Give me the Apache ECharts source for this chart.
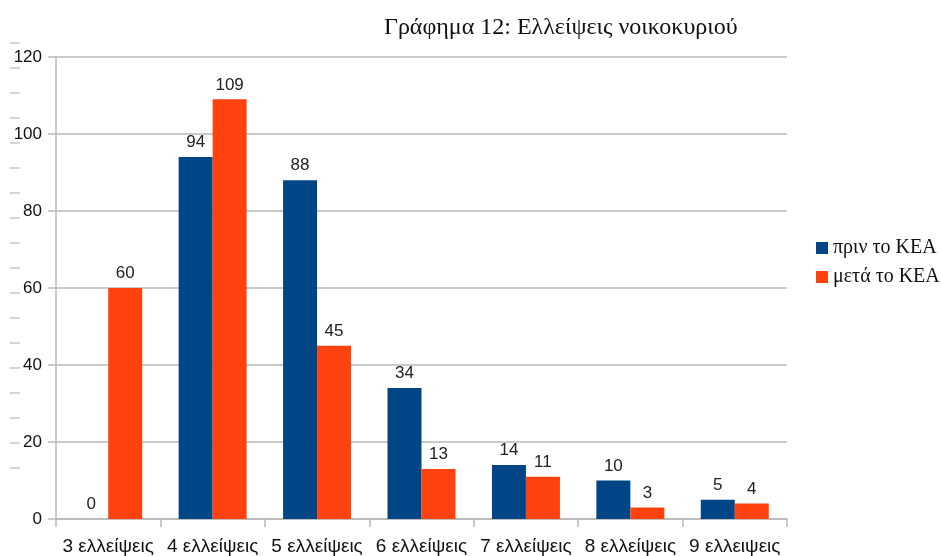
<!DOCTYPE html>
<html>
<head>
<meta charset="utf-8">
<script src="https://cdn.jsdelivr.net/npm/echarts@6/dist/echarts.min.js"></script>
<style>
  html, body { margin: 0; padding: 0; background: #fff; }
  #chart { width: 941px; height: 556px; }
</style>
</head>
<body>
<div id="chart"></div>
<script>
// κατηγορίες
var categories = ['3 ελλείψεις', '4 ελλείψεις', '5 ελλείψεις', '6 ελλείψεις', '7 ελλείψεις', '8 ελλείψεις', '9 ελλειψεις'];
// σειρές
var seriesNames = ['πριν το ΚΕΑ', 'μετά το ΚΕΑ'];
var beforeValues = [0, 94, 88, 34, 14, 10, 5];
var afterValues = [60, 109, 45, 13, 11, 3, 4];
// άξονας y
var yMin = 0, yMax = 120, yStep = 20;

var colorList = ['#004586', '#ff420e'];
var gridColor = '#b8b8b8';

//διακοσμητικές παύλες αριστερά
var dashes = [];
for (var k = 0; k < 18; k++) {
    dashes.push({
        type: 'line',
        shape: { x1: 10, y1: 43 + k * 25, x2: 20, y2: 43 + k * 25 },
        style: { stroke: '#c8c8c8', lineWidth: 1.5 }
    });
}

var chart = echarts.init(document.getElementById('chart'));
var labelStyle = {
    show: true,
    position: 'top',
    distance: 6,
    color: '#222',
    fontSize: 17,
    fontFamily: 'Liberation Sans'
};
chart.setOption({
    animation: false,
    color: colorList,
    title: {
        text: 'Γράφημα 12: Ελλείψεις νοικοκυριού',
        left: 379,
        top: 11,
        textStyle: { fontFamily: 'Liberation Serif', fontSize: 24, fontWeight: 'normal', color: '#111' }
    },
    legend: {
        orient: 'vertical',
        left: 811,
        top: 233,
        itemWidth: 12,
        itemHeight: 12,
        itemGap: 9,
        icon: 'rect',
        textStyle: { fontFamily: 'Liberation Serif', fontSize: 20, color: '#111' },
        data: seriesNames
    },
    graphic: dashes,
    grid: { left: 56, right: 154, top: 57, bottom: 37 },
    xAxis: {
        type: 'category',
        data: categories,
        axisLine: { lineStyle: { color: gridColor, width: 1.5 } },
        axisTick: { show: true, length: 8, lineStyle: { color: gridColor, width: 1.5 } },
        axisLabel: { margin: 18, color: '#111', fontSize: 19, fontFamily: 'Liberation Sans', interval: 0 }
    },
    yAxis: {
        type: 'value',
        min: yMin,
        max: yMax,
        interval: yStep,
        axisLine: { show: true, lineStyle: { color: gridColor, width: 1.5 } },
        axisTick: { show: true, length: 8, lineStyle: { color: gridColor, width: 1.5 } },
        axisLabel: { margin: 14, color: '#111', fontSize: 17, fontFamily: 'Liberation Sans' },
        splitLine: { lineStyle: { color: gridColor, width: 1.5 } }
    },
    series: [
        {
            name: seriesNames[0],
            type: 'bar',
            data: beforeValues,
            barWidth: 34,
            barGap: '0%',
            label: labelStyle
        },
        {
            name: seriesNames[1],
            type: 'bar',
            data: afterValues,
            barWidth: 34,
            barGap: '0%',
            label: labelStyle
        }
    ]
});
</script>
</body>
</html>
